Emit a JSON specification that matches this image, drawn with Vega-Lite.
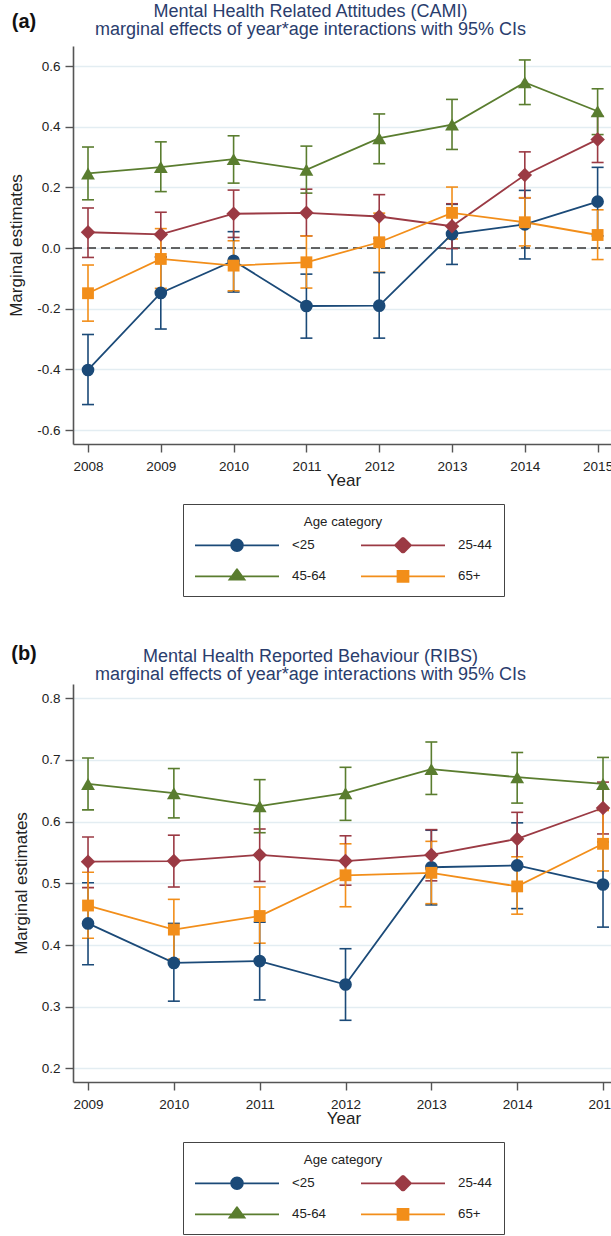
{
  "$schema": "https://vega.github.io/schema/vega-lite/v6.json",
  "padding": {"left": 7, "top": 3, "right": 0, "bottom": 0},
  "spacing": 47,
  "config": {
    "font": "Liberation Sans",
    "view": {"stroke": null},
    "axis": {
      "domainColor": "#555555", "domainWidth": 1.6,
      "tickColor": "#555555", "tickWidth": 1.4, "tickSize": 8,
      "labelFontSize": 13.5, "labelColor": "#222222", "labelPadding": 5,
      "titleFontSize": 17, "titleFontWeight": "normal", "titleColor": "#222222",
      "gridColor": "#e3edf2", "gridWidth": 1.3
    },
    "axisX": {"titlePadding": 0, "labelPadding": 7},
    "axisY": {"titlePadding": 11},
    "title": {"font": "Liberation Sans", "fontSize": 18, "fontWeight": "normal", "color": "#2a3d6d", "lineHeight": 18, "anchor": "middle", "offset": -27, "dx": -33}
  },
  "datasets": {
    "cami": [
      {"year": 2008, "age": "<25", "est": -0.402, "lo": -0.516, "hi": -0.285},
      {"year": 2009, "age": "<25", "est": -0.148, "lo": -0.267, "hi": -0.029},
      {"year": 2010, "age": "<25", "est": -0.042, "lo": -0.145, "hi": 0.054},
      {"year": 2011, "age": "<25", "est": -0.191, "lo": -0.297, "hi": -0.086},
      {"year": 2012, "age": "<25", "est": -0.190, "lo": -0.297, "hi": -0.081},
      {"year": 2013, "age": "<25", "est": 0.046, "lo": -0.054, "hi": 0.144},
      {"year": 2014, "age": "<25", "est": 0.078, "lo": -0.036, "hi": 0.190},
      {"year": 2015, "age": "<25", "est": 0.153, "lo": 0.040, "hi": 0.266},
      {"year": 2008, "age": "25-44", "est": 0.052, "lo": -0.031, "hi": 0.132},
      {"year": 2009, "age": "25-44", "est": 0.045, "lo": -0.030, "hi": 0.118},
      {"year": 2010, "age": "25-44", "est": 0.113, "lo": 0.035, "hi": 0.191},
      {"year": 2011, "age": "25-44", "est": 0.116, "lo": 0.040, "hi": 0.194},
      {"year": 2012, "age": "25-44", "est": 0.104, "lo": 0.032, "hi": 0.176},
      {"year": 2013, "age": "25-44", "est": 0.072, "lo": -0.002, "hi": 0.146},
      {"year": 2014, "age": "25-44", "est": 0.241, "lo": 0.165, "hi": 0.317},
      {"year": 2015, "age": "25-44", "est": 0.358, "lo": 0.282, "hi": 0.435},
      {"year": 2008, "age": "45-64", "est": 0.246, "lo": 0.159, "hi": 0.333},
      {"year": 2009, "age": "45-64", "est": 0.267, "lo": 0.186, "hi": 0.350},
      {"year": 2010, "age": "45-64", "est": 0.293, "lo": 0.214, "hi": 0.370},
      {"year": 2011, "age": "45-64", "est": 0.258, "lo": 0.181, "hi": 0.336},
      {"year": 2012, "age": "45-64", "est": 0.362, "lo": 0.278, "hi": 0.442},
      {"year": 2013, "age": "45-64", "est": 0.407, "lo": 0.325, "hi": 0.490},
      {"year": 2014, "age": "45-64", "est": 0.546, "lo": 0.473, "hi": 0.620},
      {"year": 2015, "age": "45-64", "est": 0.451, "lo": 0.374, "hi": 0.525},
      {"year": 2008, "age": "65+", "est": -0.149, "lo": -0.241, "hi": -0.056},
      {"year": 2009, "age": "65+", "est": -0.036, "lo": -0.133, "hi": 0.064},
      {"year": 2010, "age": "65+", "est": -0.058, "lo": -0.141, "hi": 0.024},
      {"year": 2011, "age": "65+", "est": -0.047, "lo": -0.132, "hi": 0.040},
      {"year": 2012, "age": "65+", "est": 0.019, "lo": -0.080, "hi": 0.115},
      {"year": 2013, "age": "65+", "est": 0.116, "lo": 0.030, "hi": 0.201},
      {"year": 2014, "age": "65+", "est": 0.085, "lo": 0.007, "hi": 0.166},
      {"year": 2015, "age": "65+", "est": 0.043, "lo": -0.038, "hi": 0.126}
    ],
    "ribs": [
      {"year": 2009, "age": "<25", "est": 0.435, "lo": 0.368, "hi": 0.501},
      {"year": 2010, "age": "<25", "est": 0.371, "lo": 0.309, "hi": 0.435},
      {"year": 2011, "age": "<25", "est": 0.374, "lo": 0.311, "hi": 0.437},
      {"year": 2012, "age": "<25", "est": 0.336, "lo": 0.278, "hi": 0.394},
      {"year": 2013, "age": "<25", "est": 0.526, "lo": 0.465, "hi": 0.586},
      {"year": 2014, "age": "<25", "est": 0.529, "lo": 0.459, "hi": 0.598},
      {"year": 2015, "age": "<25", "est": 0.498, "lo": 0.429, "hi": 0.567},
      {"year": 2009, "age": "25-44", "est": 0.535, "lo": 0.493, "hi": 0.575},
      {"year": 2010, "age": "25-44", "est": 0.536, "lo": 0.494, "hi": 0.578},
      {"year": 2011, "age": "25-44", "est": 0.546, "lo": 0.503, "hi": 0.588},
      {"year": 2012, "age": "25-44", "est": 0.536, "lo": 0.497, "hi": 0.577},
      {"year": 2013, "age": "25-44", "est": 0.546, "lo": 0.504, "hi": 0.587},
      {"year": 2014, "age": "25-44", "est": 0.572, "lo": 0.530, "hi": 0.615},
      {"year": 2015, "age": "25-44", "est": 0.622, "lo": 0.580, "hi": 0.664},
      {"year": 2009, "age": "45-64", "est": 0.661, "lo": 0.619, "hi": 0.703},
      {"year": 2010, "age": "45-64", "est": 0.646, "lo": 0.606, "hi": 0.686},
      {"year": 2011, "age": "45-64", "est": 0.625, "lo": 0.582, "hi": 0.668},
      {"year": 2012, "age": "45-64", "est": 0.646, "lo": 0.602, "hi": 0.688},
      {"year": 2013, "age": "45-64", "est": 0.685, "lo": 0.644, "hi": 0.729},
      {"year": 2014, "age": "45-64", "est": 0.672, "lo": 0.630, "hi": 0.712},
      {"year": 2015, "age": "45-64", "est": 0.661, "lo": 0.620, "hi": 0.704},
      {"year": 2009, "age": "65+", "est": 0.464, "lo": 0.411, "hi": 0.518},
      {"year": 2010, "age": "65+", "est": 0.425, "lo": 0.377, "hi": 0.474},
      {"year": 2011, "age": "65+", "est": 0.447, "lo": 0.403, "hi": 0.494},
      {"year": 2012, "age": "65+", "est": 0.513, "lo": 0.462, "hi": 0.564},
      {"year": 2013, "age": "65+", "est": 0.517, "lo": 0.467, "hi": 0.568},
      {"year": 2014, "age": "65+", "est": 0.495, "lo": 0.450, "hi": 0.543},
      {"year": 2015, "age": "65+", "est": 0.564, "lo": 0.520, "hi": 0.618}
    ]
  },
  "resolve": {"legend": {"color": "independent"}},
  "vconcat": [
    {
      "width": 541,
      "height": 398,
      "title": {"text": ["Mental Health Related Attitudes (CAMI)", "marginal effects of year*age interactions with 95% CIs"]},
      "data": {"name": "cami"},
      "layer": [
        {
          "data": {"values": [{}]},
          "mark": {"type": "rule", "strokeDash": [9, 5], "color": "#333333", "strokeWidth": 1.4},
          "encoding": {
            "y": {"datum": 0, "type": "quantitative", "scale": {"domain": [-0.646, 0.666], "nice": false, "zero": false}}
          }
        },
        {
          "mark": {"type": "errorbar", "thickness": 1.6, "ticks": {"size": 12, "thickness": 1.6, "opacity": 1}, "rule": {"opacity": 1, "strokeWidth": 1.6}},
          "encoding": {
            "x": {"field": "year", "type": "quantitative", "scale": {"domain": [2007.794, 2015.225], "nice": false, "zero": false}, "axis": {"values": [2008, 2009, 2010, 2011, 2012, 2013, 2014, 2015], "format": "d", "title": "Year", "grid": false}},
            "y": {"field": "lo", "type": "quantitative", "scale": {"domain": [-0.646, 0.666], "nice": false, "zero": false}, "axis": {"values": [-0.6, -0.4, -0.2, 0, 0.2, 0.4, 0.6], "labelExpr": "datum.value < 0 ? '-' + format(-datum.value, '.1f') : format(datum.value, '.1f')", "title": "Marginal estimates", "grid": true}},
            "y2": {"field": "hi"},
            "color": {"field": "age", "type": "nominal", "title": "Age category", "scale": {"domain": ["<25", "25-44", "45-64", "65+"], "range": ["#1b4a78", "#9b3a44", "#5a7d2f", "#f28e1a"]}}
          }
        },
        {
          "mark": {"type": "line", "strokeWidth": 1.8},
          "encoding": {
            "x": {"field": "year", "type": "quantitative", "scale": {"domain": [2007.794, 2015.225], "nice": false, "zero": false}, "axis": {"values": [2008, 2009, 2010, 2011, 2012, 2013, 2014, 2015], "format": "d", "title": "Year", "grid": false}},
            "y": {"field": "est", "type": "quantitative", "scale": {"domain": [-0.646, 0.666], "nice": false, "zero": false}, "axis": {"values": [-0.6, -0.4, -0.2, 0, 0.2, 0.4, 0.6], "labelExpr": "datum.value < 0 ? '-' + format(-datum.value, '.1f') : format(datum.value, '.1f')", "title": "Marginal estimates", "grid": true}},
            "color": {"field": "age", "type": "nominal", "title": "Age category", "scale": {"domain": ["<25", "25-44", "45-64", "65+"], "range": ["#1b4a78", "#9b3a44", "#5a7d2f", "#f28e1a"]},
              "legend": {
                "orient": "none", "legendX": 110, "legendY": 458, "columns": 2, "direction": "horizontal",
                "title": "Age category", "titleAnchor": "middle", "titleFontSize": 13.3, "titleFontWeight": "normal", "titleColor": "#222222", "titlePadding": 9,
                "labelFontSize": 13.3, "labelColor": "#222222", "labelOffset": 12,
                "symbolSize": 7056, "symbolStrokeWidth": 1.8, "clipHeight": 16, "rowPadding": 15, "columnPadding": 33,
                "padding": 11, "strokeColor": "#444444", "symbolOpacity": 1,
                "symbolType": {"expr": "datum.value === '<25' ? 'M-1,0L1,0M-0.14,0A0.14,0.14,0,1,0,0.14,0A0.14,0.14,0,1,0,-0.14,0Z' : datum.value === '25-44' ? 'M-1,0L1,0M0,-0.19L0.19,0L0,0.19L-0.19,0Z' : datum.value === '45-64' ? 'M-1,0L1,0M0,-0.17L0.18,0.08L-0.18,0.08Z' : 'M-1,0L1,0M-0.13,-0.13L0.13,-0.13L0.13,0.13L-0.13,0.13Z'"},
                "symbolFillColor": {"expr": "datum.value === '<25' ? '#1b4a78' : datum.value === '25-44' ? '#9b3a44' : datum.value === '45-64' ? '#5a7d2f' : '#f28e1a'"}
              }
            }
          }
        },
        {
          "transform": [{"filter": {"field": "age", "equal": "<25"}}],
          "mark": {"type": "point", "shape": "circle", "size": 160, "filled": true, "opacity": 1},
          "encoding": {
            "x": {"field": "year", "type": "quantitative"},
            "y": {"field": "est", "type": "quantitative"},
            "color": {"field": "age", "type": "nominal", "title": "Age category"}
          }
        },
        {
          "transform": [{"filter": {"field": "age", "equal": "25-44"}}],
          "mark": {"type": "point", "shape": "diamond", "size": 210, "filled": true, "opacity": 1},
          "encoding": {
            "x": {"field": "year", "type": "quantitative"},
            "y": {"field": "est", "type": "quantitative"},
            "color": {"field": "age", "type": "nominal", "title": "Age category"}
          }
        },
        {
          "transform": [{"filter": {"field": "age", "equal": "45-64"}}],
          "mark": {"type": "point", "shape": "triangle-up", "size": 190, "filled": true, "opacity": 1},
          "encoding": {
            "x": {"field": "year", "type": "quantitative"},
            "y": {"field": "est", "type": "quantitative"},
            "color": {"field": "age", "type": "nominal", "title": "Age category"}
          }
        },
        {
          "transform": [{"filter": {"field": "age", "equal": "65+"}}],
          "mark": {"type": "point", "shape": "square", "size": 140, "filled": true, "opacity": 1},
          "encoding": {
            "x": {"field": "year", "type": "quantitative"},
            "y": {"field": "est", "type": "quantitative"},
            "color": {"field": "age", "type": "nominal", "title": "Age category"}
          }
        },
        {
          "data": {"values": [{}]},
          "mark": {"type": "text", "fontSize": 20, "fontWeight": "bold", "color": "#111111", "align": "center", "baseline": "middle"},
          "encoding": {
            "x": {"datum": 2007.121, "type": "quantitative"},
            "y": {"datum": 0.745, "type": "quantitative"},
            "text": {"value": "(a)"}
          }
        }
      ]
    },
    {
      "width": 541,
      "height": 398,
      "title": {"text": ["Mental Health Reported Behaviour (RIBS)", "marginal effects of year*age interactions with 95% CIs"], "offset": -40},
      "data": {"name": "ribs"},
      "layer": [
        {
          "mark": {"type": "errorbar", "thickness": 1.6, "ticks": {"size": 12, "thickness": 1.6, "opacity": 1}, "rule": {"opacity": 1, "strokeWidth": 1.6}},
          "encoding": {
            "x": {"field": "year", "type": "quantitative", "scale": {"domain": [2008.825, 2015.128], "nice": false, "zero": false}, "axis": {"values": [2009, 2010, 2011, 2012, 2013, 2014, 2015], "format": "d", "title": "Year", "grid": false}},
            "y": {"field": "lo", "type": "quantitative", "scale": {"domain": [0.178, 0.823], "nice": false, "zero": false}, "axis": {"values": [0.2, 0.3, 0.4, 0.5, 0.6, 0.7, 0.8], "format": ".1f", "title": "Marginal estimates", "grid": true}},
            "y2": {"field": "hi"},
            "color": {"field": "age", "type": "nominal", "title": "Age category", "scale": {"domain": ["<25", "25-44", "45-64", "65+"], "range": ["#1b4a78", "#9b3a44", "#5a7d2f", "#f28e1a"]}}
          }
        },
        {
          "mark": {"type": "line", "strokeWidth": 1.8},
          "encoding": {
            "x": {"field": "year", "type": "quantitative", "scale": {"domain": [2008.825, 2015.128], "nice": false, "zero": false}, "axis": {"values": [2009, 2010, 2011, 2012, 2013, 2014, 2015], "format": "d", "title": "Year", "grid": false}},
            "y": {"field": "est", "type": "quantitative", "scale": {"domain": [0.178, 0.823], "nice": false, "zero": false}, "axis": {"values": [0.2, 0.3, 0.4, 0.5, 0.6, 0.7, 0.8], "format": ".1f", "title": "Marginal estimates", "grid": true}},
            "color": {"field": "age", "type": "nominal", "title": "Age category", "scale": {"domain": ["<25", "25-44", "45-64", "65+"], "range": ["#1b4a78", "#9b3a44", "#5a7d2f", "#f28e1a"]},
              "legend": {
                "orient": "none", "legendX": 110, "legendY": 458, "columns": 2, "direction": "horizontal",
                "title": "Age category", "titleAnchor": "middle", "titleFontSize": 13.3, "titleFontWeight": "normal", "titleColor": "#222222", "titlePadding": 9,
                "labelFontSize": 13.3, "labelColor": "#222222", "labelOffset": 12,
                "symbolSize": 7056, "symbolStrokeWidth": 1.8, "clipHeight": 16, "rowPadding": 15, "columnPadding": 33,
                "padding": 11, "strokeColor": "#444444", "symbolOpacity": 1,
                "symbolType": {"expr": "datum.value === '<25' ? 'M-1,0L1,0M-0.14,0A0.14,0.14,0,1,0,0.14,0A0.14,0.14,0,1,0,-0.14,0Z' : datum.value === '25-44' ? 'M-1,0L1,0M0,-0.19L0.19,0L0,0.19L-0.19,0Z' : datum.value === '45-64' ? 'M-1,0L1,0M0,-0.17L0.18,0.08L-0.18,0.08Z' : 'M-1,0L1,0M-0.13,-0.13L0.13,-0.13L0.13,0.13L-0.13,0.13Z'"},
                "symbolFillColor": {"expr": "datum.value === '<25' ? '#1b4a78' : datum.value === '25-44' ? '#9b3a44' : datum.value === '45-64' ? '#5a7d2f' : '#f28e1a'"}
              }
            }
          }
        },
        {
          "transform": [{"filter": {"field": "age", "equal": "<25"}}],
          "mark": {"type": "point", "shape": "circle", "size": 160, "filled": true, "opacity": 1},
          "encoding": {
            "x": {"field": "year", "type": "quantitative"},
            "y": {"field": "est", "type": "quantitative"},
            "color": {"field": "age", "type": "nominal", "title": "Age category"}
          }
        },
        {
          "transform": [{"filter": {"field": "age", "equal": "25-44"}}],
          "mark": {"type": "point", "shape": "diamond", "size": 210, "filled": true, "opacity": 1},
          "encoding": {
            "x": {"field": "year", "type": "quantitative"},
            "y": {"field": "est", "type": "quantitative"},
            "color": {"field": "age", "type": "nominal", "title": "Age category"}
          }
        },
        {
          "transform": [{"filter": {"field": "age", "equal": "45-64"}}],
          "mark": {"type": "point", "shape": "triangle-up", "size": 190, "filled": true, "opacity": 1},
          "encoding": {
            "x": {"field": "year", "type": "quantitative"},
            "y": {"field": "est", "type": "quantitative"},
            "color": {"field": "age", "type": "nominal", "title": "Age category"}
          }
        },
        {
          "transform": [{"filter": {"field": "age", "equal": "65+"}}],
          "mark": {"type": "point", "shape": "square", "size": 140, "filled": true, "opacity": 1},
          "encoding": {
            "x": {"field": "year", "type": "quantitative"},
            "y": {"field": "est", "type": "quantitative"},
            "color": {"field": "age", "type": "nominal", "title": "Age category"}
          }
        },
        {
          "data": {"values": [{}]},
          "mark": {"type": "text", "fontSize": 20, "fontWeight": "bold", "color": "#111111", "align": "center", "baseline": "middle"},
          "encoding": {
            "x": {"datum": 2008.254, "type": "quantitative"},
            "y": {"datum": 0.871, "type": "quantitative"},
            "text": {"value": "(b)"}
          }
        }
      ]
    }
  ]
}
